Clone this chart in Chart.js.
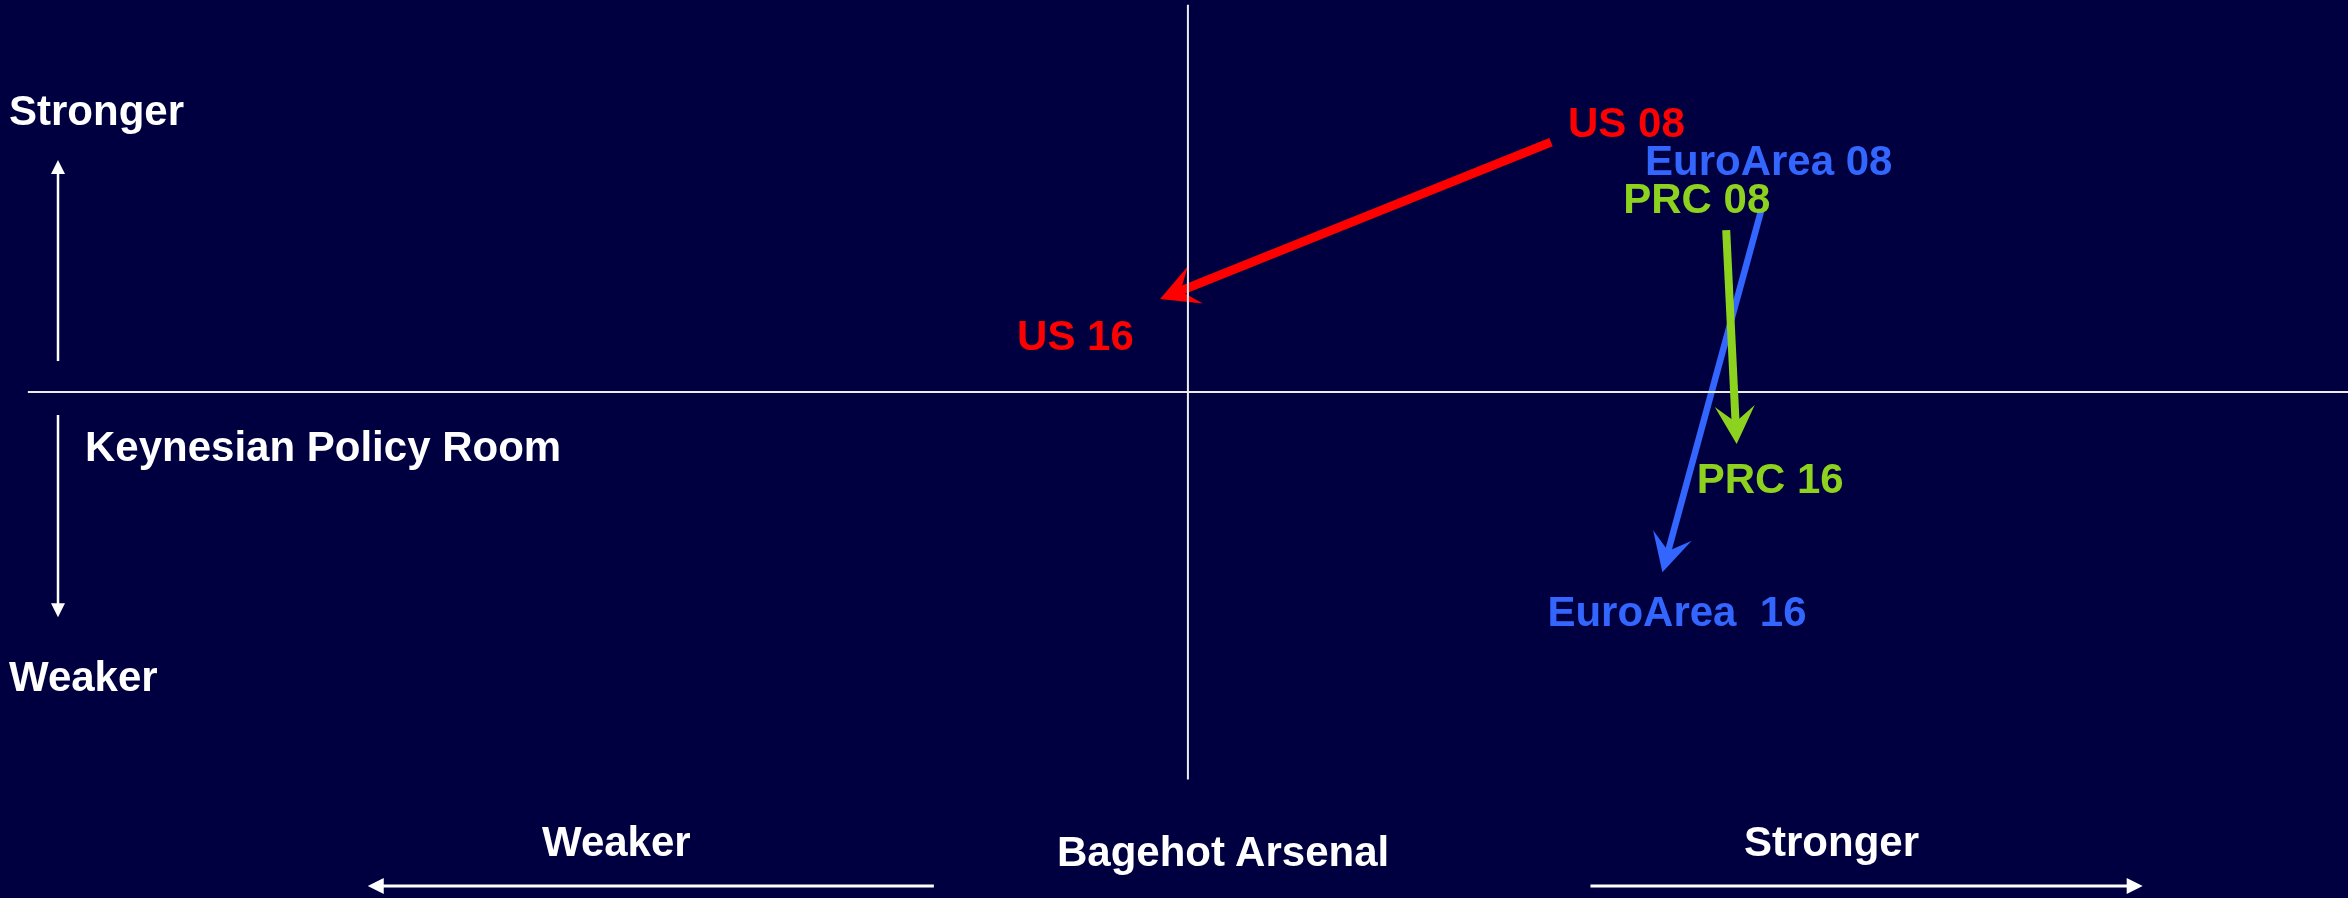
<!DOCTYPE html>
<html lang="en">
<head>
<meta charset="UTF-8">
<title>Bagehot Arsenal vs Keynesian Policy Room</title>
<script src="https://cdn.jsdelivr.net/npm/chart.js"></script>
<style>
  body { margin: 0; background: #000040; overflow: hidden; }
  #wrap { position: relative; width: 2348px; height: 898px; }
  #chart { position: absolute; left: 0; top: 0; }
  .lbl { position: absolute; color: #fff; font: bold 42px "Liberation Sans", Arial, sans-serif; line-height: 42px; white-space: pre; }
</style>
</head>
<body>
<div id="wrap">
  <canvas id="chart" width="2348" height="898"></canvas>
  <div class="lbl" style="left:9px;top:90px">Stronger</div>
  <div class="lbl" style="left:85px;top:426px">Keynesian Policy Room</div>
  <div class="lbl" style="left:9px;top:656px">Weaker</div>
  <div class="lbl" style="left:542px;top:821px">Weaker</div>
  <div class="lbl" style="left:1057px;top:831px">Bagehot Arsenal</div>
  <div class="lbl" style="left:1744px;top:821px">Stronger</div>
</div>
<script>
// x = Bagehot arsenal, y = Keynesian policy room (arbitrary units, 0 = the cross)
const regions = ["US", "EuroArea", "PRC"]
const labels08 = ["US 08", "EuroArea 08", "PRC 08"]
const labels16 = ["US 16", "EuroArea  16", "PRC 16"]
const bagehot08 = [3.13, 4.94, 4.64]
const keynes08 = [6.45, 4.67, 4.18]
const bagehot16 = [-0.24, 4.09, 4.73]
const keynes16 = [2.40, -4.65, -1.34]

// the cross and the little guide arrows
const xAxisLine = [[-10, 0], [10, 0]]
const yAxisLine = [[0, 10], [0, -10]]
const guideUp = [[-9.74, 0.80], [-9.74, 5.99]]
const guideDown = [[-9.74, -0.59], [-9.74, -5.81]]
const guideLeft = [[-2.19, -12.75], [-7.07, -12.75]]
const guideRight = [[3.47, -12.75], [8.23, -12.75]]

const colors = ["#ff0000", "#3366ff", "#8cd21e"]
const lineWidths = [9, 6.5, 8]
const drawOrder = [3, 4, 1]
// text placement in pixels from the arrow start (08) and tip (16)
const labelOffsets = {
  start: [[17, -5], [-116, -36], [-103, -17]],
  end: [[-143, 51], [-115, 54], [-40, 49]]
}

const toPts = arr => arr.map(p => ({x: p[0], y: p[1]}))

const datasets = []
regions.forEach((r, i) => {
  datasets.push({
    label: r,
    data: [{x: bagehot08[i], y: keynes08[i]}, {x: bagehot16[i], y: keynes16[i]}],
    borderColor: colors[i],
    borderWidth: lineWidths[i],
    order: drawOrder[i],
    head: {len: 38, half: 20, notch: 22}
  })
})
datasets.push({label: "x axis", data: toPts(xAxisLine), borderColor: "#ececec", borderWidth: 2, order: 2})
datasets.push({label: "y axis", data: toPts(yAxisLine), borderColor: "#ececec", borderWidth: 2, order: 2})
;[guideUp, guideDown].forEach(g => {
  datasets.push({label: "guide", data: toPts(g), borderColor: "#ffffff", borderWidth: 2.5, order: 0,
    head: {len: 14, half: 7, notch: 14}})
})
;[guideLeft, guideRight].forEach(g => {
  datasets.push({label: "guide", data: toPts(g), borderColor: "#ffffff", borderWidth: 3, order: 0,
    head: {len: 16, half: 8, notch: 16}})
})

const arrowPlugin = {
  id: "arrows",
  beforeDatasetDraw(chart, args) {
    const ds = chart.data.datasets[args.index]
    if (!ds.head) return
    const pts = args.meta.data
    const a = pts[pts.length - 2], b = pts[pts.length - 1]
    const dx = b.x - a.x, dy = b.y - a.y, L = Math.hypot(dx, dy)
    ds._tip = {x: b.x, y: b.y, ux: dx / L, uy: dy / L}
    // stop the shaft inside the head so it does not poke out at the tip
    const back = Math.max(ds.head.notch - 2, 0)
    b.x -= ds._tip.ux * back
    b.y -= ds._tip.uy * back
  },
  afterDatasetDraw(chart, args) {
    const ds = chart.data.datasets[args.index]
    if (!ds.head || !ds._tip) return
    const pts = args.meta.data
    const b = pts[pts.length - 1]
    const t = ds._tip, h = ds.head
    b.x = t.x
    b.y = t.y
    const px = -t.uy, py = t.ux
    const ctx = chart.ctx
    ctx.save()
    ctx.beginPath()
    ctx.moveTo(t.x, t.y)
    ctx.lineTo(t.x - t.ux * h.len + px * h.half, t.y - t.uy * h.len + py * h.half)
    ctx.lineTo(t.x - t.ux * h.notch, t.y - t.uy * h.notch)
    ctx.lineTo(t.x - t.ux * h.len - px * h.half, t.y - t.uy * h.len - py * h.half)
    ctx.closePath()
    ctx.fillStyle = ds.borderColor
    ctx.fill()
    ctx.restore()
  }
}

const labelPlugin = {
  id: "pointLabels",
  afterDatasetsDraw(chart) {
    const ctx = chart.ctx
    ctx.save()
    ctx.font = 'bold 42px "Liberation Sans", Arial, sans-serif'
    ctx.textAlign = "left"
    ctx.textBaseline = "alphabetic"
    regions.forEach((r, i) => {
      const pts = chart.getDatasetMeta(i).data
      ctx.fillStyle = colors[i]
      const o1 = labelOffsets.start[i], o2 = labelOffsets.end[i]
      ctx.fillText(labels08[i], pts[0].x + o1[0], pts[0].y + o1[1])
      ctx.fillText(labels16[i], pts[1].x + o2[0], pts[1].y + o2[1])
    })
    ctx.restore()
  }
}

new Chart(document.getElementById("chart"), {
  type: "scatter",
  data: {datasets: datasets},
  options: {
    responsive: false,
    animation: false,
    showLine: true,
    layout: {padding: 0},
    elements: {
      point: {radius: 0, hoverRadius: 0},
      line: {tension: 0, borderCapStyle: "butt", fill: false}
    },
    scales: {
      x: {type: "linear", min: -10.24, max: 10, display: false},
      y: {type: "linear", min: -13.06, max: 10.12, display: false}
    },
    plugins: {legend: {display: false}, tooltip: {enabled: false}},
    clip: false
  },
  plugins: [arrowPlugin, labelPlugin]
})
</script>
</body>
</html>
